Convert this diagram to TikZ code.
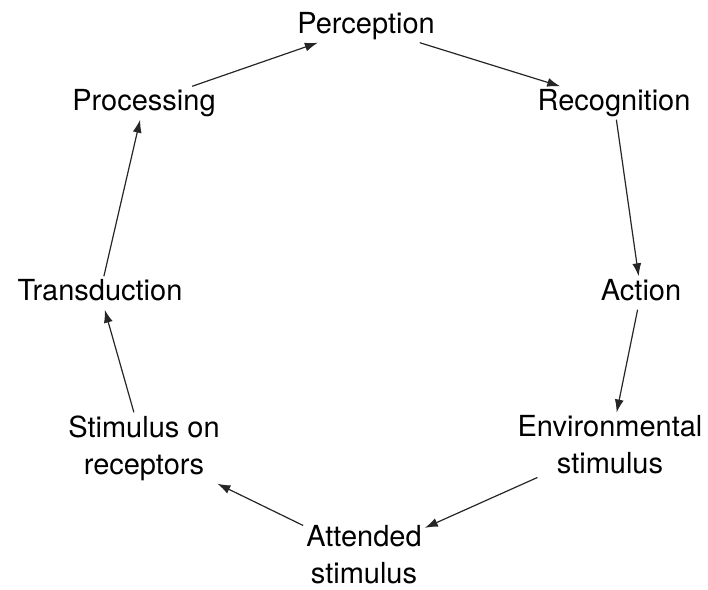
\documentclass[tikz,border=0pt]{standalone}
\usepackage{fontspec}
\setmainfont{TeX Gyre Heros}
\usetikzlibrary{arrows.meta}
\begin{document}
\begin{tikzpicture}[x=1pt,y=-1pt,
  lbl/.style={font=\fontsize{29}{37}\selectfont, inner sep=3pt, text height=21pt, text depth=6pt},
  lbltwo/.style={font=\fontsize{29}{37}\selectfont, inner sep=3pt, align=center},
  arr/.style={-{Latex[length=13pt,width=9pt]}, line width=1.2pt, black!85}]
\useasboundingbox (0,0) rectangle (708,589);
\node[lbl] (perc) at (366,26) {Perception};
\node[lbl] (recog) at (614,103) {Recognition};
\node[lbl] (action) at (641,293) {Action};
\node[lbltwo] (env) at (610,445) {Environmental\\stimulus};
\node[lbltwo] (att) at (364,555) {Attended\\stimulus};
\node[lbltwo] (stim) at (144,448) {Stimulus on\\receptors};
\node[lbl] (trans) at (100,293) {Transduction};
\node[lbl] (proc) at (144,103) {Processing};
\draw[arr] (proc) -- (perc);
\draw[arr] (perc) -- (recog);
\draw[arr] (recog) -- (action);
\draw[arr] (action) -- (env);
\draw[arr] (env) -- (att);
\draw[arr] (att) -- (stim);
\draw[arr] (stim) -- (trans);
\draw[arr] (trans) -- (proc);
\end{tikzpicture}
\end{document}
